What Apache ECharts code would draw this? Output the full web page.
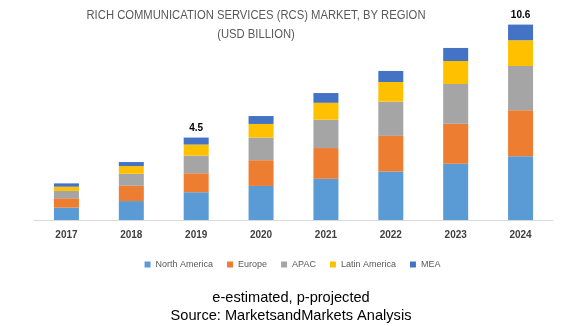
<!DOCTYPE html>
<html><head><meta charset="utf-8">
<script src="https://cdn.jsdelivr.net/npm/echarts@6/dist/echarts.min.js"></script>
<style>html,body{margin:0;padding:0;background:#fff}#c{width:585px;height:326px}</style>
</head><body><div id="c"></div>
<script>
const categories = ['2017','2018','2019','2020','2021','2022','2023','2024'];
const northAmerica = [0.67, 1.03, 1.51, 1.85, 2.24, 2.63, 3.06, 3.46];
const europe       = [0.51, 0.83, 1.03, 1.40, 1.67, 1.94, 2.17, 2.50];
const apac         = [0.40, 0.65, 0.96, 1.23, 1.54, 1.86, 2.16, 2.41];
const latinAmerica = [0.23, 0.42, 0.60, 0.74, 0.92, 1.07, 1.25, 1.40];
const mea          = [0.18, 0.22, 0.38, 0.43, 0.53, 0.60, 0.71, 0.85];
const totalLabels  = ['', '', '4.5', '', '', '', '', '10.6'];
const titleLine1 = 'RICH COMMUNICATION SERVICES (RCS) MARKET, BY REGION';
const titleLine2 = '(USD BILLION)';

const seriesDefs = [
  ['North America', northAmerica, '#5B9BD5'],
  ['Europe', europe, '#ED7D31'],
  ['APAC', apac, '#A5A5A5'],
  ['Latin America', latinAmerica, '#FFC000'],
  ['MEA', mea, '#4472C4']
];

const titleFont = '12.5px "Liberation Sans"';
const ctx = document.createElement('canvas').getContext('2d');
ctx.font = titleFont;
const titleScale = 339 / ctx.measureText(titleLine1).width;

const chart = echarts.init(document.getElementById('c'), null, {renderer:'canvas'});
chart.setOption({
  animation: false,
  legend: {
    bottom: 52, left: 'center',
    icon: 'rect', itemWidth: 6, itemHeight: 6, itemGap: 14,
    textStyle: {fontFamily: 'Liberation Sans', fontSize: 9, color: '#595959'},
    data: seriesDefs.map(s => s[0])
  },
  grid: {left: 34, right: 32, top: 17.6, bottom: 106, containLabel: false},
  xAxis: {
    type: 'category', data: categories,
    axisLine: {lineStyle: {color: '#D9D9D9'}},
    axisTick: {show: false},
    axisLabel: {fontFamily: 'Liberation Sans', fontSize: 10, fontWeight: 'bold', color: '#404040', margin: 10}
  },
  yAxis: {type: 'value', min: 0, max: 11, show: false, splitLine: {show: false}},
  series: seriesDefs.map((s, i) => ({
    name: s[0], type: 'bar', stack: 'total', data: s[1], barWidth: 25,
    itemStyle: {color: s[2]},
    label: i === seriesDefs.length - 1 ? {
      show: true, position: 'top', distance: 4,
      formatter: p => totalLabels[p.dataIndex],
      fontFamily: 'Liberation Sans', fontSize: 10, fontWeight: 'bold', color: '#000'
    } : {show: false}
  })),
  graphic: [
    {type: 'text', x: 256, y: 16, scaleX: titleScale, style: {text: titleLine1, font: titleFont, fill: '#595959', textAlign: 'center', textVerticalAlign: 'middle'}},
    {type: 'text', x: 256, y: 35, scaleX: titleScale, style: {text: titleLine2, font: titleFont, fill: '#595959', textAlign: 'center', textVerticalAlign: 'middle'}},
    {type: 'text', x: 291, y: 298, style: {text: 'e-estimated, p-projected', font: '14.6px "Liberation Sans"', fill: '#000', textAlign: 'center', textVerticalAlign: 'middle'}},
    {type: 'text', x: 291, y: 316, style: {text: 'Source: MarketsandMarkets Analysis', font: '14.6px "Liberation Sans"', fill: '#000', textAlign: 'center', textVerticalAlign: 'middle'}}
  ]
});
</script></body></html>
